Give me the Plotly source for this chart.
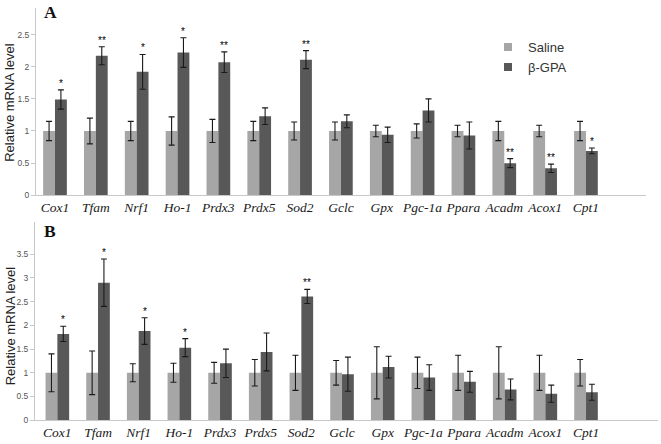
import plotly.graph_objects as go

genes = ["Cox1", "Tfam", "Nrf1", "Ho-1", "Prdx3", "Prdx5", "Sod2", "Gclc",
         "Gpx", "Pgc-1a", "Ppara", "Acadm", "Acox1", "Cpt1"]

# Panel A
a_saline = [1, 1, 1, 1, 1, 1, 1, 1, 1, 1, 1, 1, 1, 1]
a_saline_err = [0.15, 0.20, 0.15, 0.22, 0.18, 0.15, 0.14, 0.14, 0.09, 0.11, 0.09, 0.15, 0.09, 0.15]
a_gpa = [1.49, 2.17, 1.92, 2.22, 2.07, 1.23, 2.11, 1.15, 0.94, 1.32, 0.93, 0.50, 0.42, 0.69]
a_gpa_err = [0.15, 0.14, 0.27, 0.23, 0.16, 0.13, 0.14, 0.10, 0.12, 0.18, 0.21, 0.07, 0.065, 0.045]
a_sig = ["*", "**", "*", "*", "**", "", "**", "", "", "", "", "**", "**", "*"]

# Panel B
b_saline = [1, 1, 1, 1, 1, 1, 1, 1, 1, 1, 1, 1, 1, 1]
b_saline_err = [0.40, 0.46, 0.19, 0.20, 0.22, 0.28, 0.37, 0.26, 0.55, 0.33, 0.37, 0.55, 0.37, 0.28]
b_gpa = [1.82, 2.90, 1.88, 1.53, 1.20, 1.44, 2.61, 0.97, 1.12, 0.90, 0.81, 0.65, 0.56, 0.59]
b_gpa_err = [0.16, 0.50, 0.28, 0.19, 0.30, 0.40, 0.15, 0.36, 0.23, 0.27, 0.22, 0.22, 0.18, 0.17]
b_sig = ["*", "*", "*", "*", "", "", "**", "", "", "", "", "", "", ""]

a_ticks = [0, 0.5, 1, 1.5, 2, 2.5]
b_ticks = [0, 0.5, 1, 1.5, 2, 2.5, 3, 3.5]

C_SAL = "#a6a6a6"
C_GPA = "#585858"
W = 0.29
idx = list(range(len(genes)))

fig = go.Figure()

def add_panel(sal, sal_err, gpa, gpa_err, xa, ya):
    err_style = dict(type="data", thickness=1.1, width=3, color="#1a1a1a")
    fig.add_trace(go.Bar(x=idx, y=sal, width=W, offset=-W, marker=dict(color=C_SAL, line=dict(width=0)),
                         error_y=dict(array=sal_err, **err_style), name="Saline",
                         xaxis=xa, yaxis=ya, showlegend=False))
    fig.add_trace(go.Bar(x=idx, y=gpa, width=W, offset=0, marker=dict(color=C_GPA, line=dict(width=0)),
                         error_y=dict(array=gpa_err, **err_style), name="β-GPA",
                         xaxis=xa, yaxis=ya, showlegend=False))

add_panel(a_saline, a_saline_err, a_gpa, a_gpa_err, "x", "y")
add_panel(b_saline, b_saline_err, b_gpa, b_gpa_err, "x2", "y2")

# legend entries (small square swatches)
for nm, col in [("Saline", C_SAL), ("β-GPA", C_GPA)]:
    fig.add_trace(go.Scatter(x=[None], y=[None], mode="markers", name=nm,
                             marker=dict(symbol="square", size=8, color=col),
                             xaxis="x", yaxis="y", showlegend=True))

annotations = []
for sig, vals, errs, xr, yr in [(a_sig, a_gpa, a_gpa_err, "x", "y"), (b_sig, b_gpa, b_gpa_err, "x2", "y2")]:
    for i, s in enumerate(sig):
        if s:
            annotations.append(dict(x=i + W / 2, y=vals[i] + errs[i], xref=xr, yref=yr, text=s,
                                    showarrow=False, yanchor="bottom", yshift=-1,
                                    font=dict(family="Liberation Sans", size=10, color="#000")))

for letter, ypos in [("A", 1 - 12 / 444), ("B", 1 - 234 / 444)]:
    annotations.append(dict(x=50 / 661, y=ypos, xref="paper", yref="paper", text="<b>" + letter + "</b>",
                            showarrow=False, xanchor="center", yanchor="middle",
                            font=dict(family="Liberation Serif", size=17.5, color="#111")))
for ypos in [1 - 104 / 444, 1 - 330 / 444]:
    annotations.append(dict(x=10 / 661, y=ypos, xref="paper", yref="paper", text="Relative mRNA level",
                            showarrow=False, xanchor="center", yanchor="middle", textangle=-90,
                            font=dict(family="Liberation Sans", size=13, color="#222")))

xcommon = dict(tickmode="array", tickvals=idx, ticktext=genes, showline=True, linecolor="#c8c8c8",
               linewidth=1, ticks="", showgrid=False, zeroline=False,
               tickfont=dict(family="Liberation Serif", size=13.5, color="#1a1a1a", style="italic"))
ycommon = dict(showline=True, linecolor="#c8c8c8", linewidth=1, ticks="outside", ticklen=4,
               tickcolor="#c8c8c8", showgrid=False, zeroline=False, tickmode="array",
               tickfont=dict(family="Liberation Sans", size=8.5, color="#555"))

fig.update_layout(
    width=661, height=444,
    margin=dict(l=0, r=0, t=0, b=0),
    paper_bgcolor="white", plot_bgcolor="white",
    barmode="overlay",
    xaxis=dict(domain=[36 / 661, 646 / 661], range=[-0.465, 14.47], anchor="y", **xcommon),
    yaxis=dict(domain=[(444 - 197.5) / 444, (444 - 8.3) / 444], range=[0, 2.91], anchor="x",
               tickvals=a_ticks, **ycommon),
    xaxis2=dict(domain=[35 / 661, 658 / 661], range=[-0.55, 14.77], anchor="y2", **xcommon),
    yaxis2=dict(domain=[19 / 444, 219 / 444], range=[0, 4.17], anchor="x2",
                tickvals=b_ticks, **ycommon),
    legend=dict(x=488 / 661, y=1 - 32.5 / 444, xanchor="left", yanchor="top", bgcolor="rgba(0,0,0,0)",
                font=dict(family="Liberation Sans", size=13, color="#333"), tracegroupgap=0),
    annotations=annotations,
    showlegend=True,
)

fig.write_html("out.html", config={"displayModeBar": False},
               post_script="document.body.style.margin='0';")
